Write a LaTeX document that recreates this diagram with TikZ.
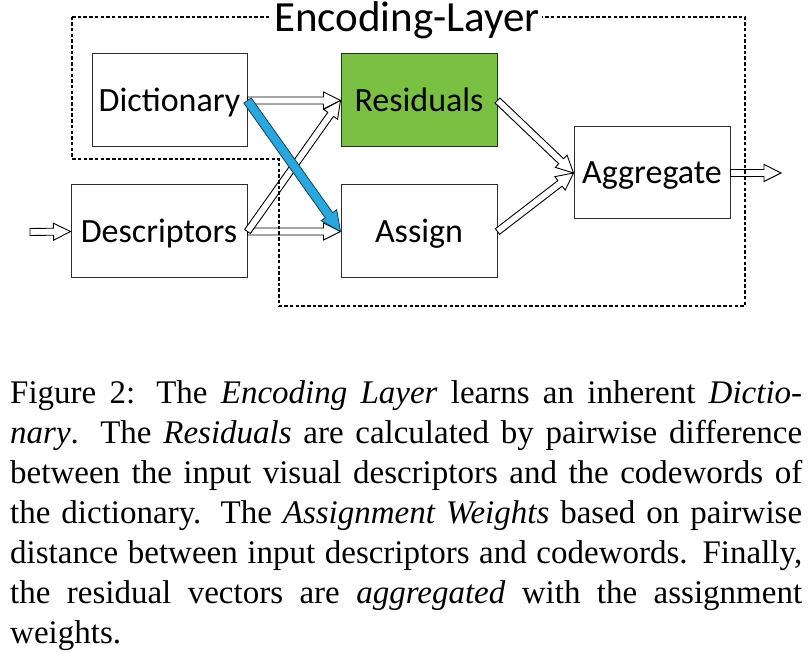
\documentclass[tikz,border=0pt]{standalone}
\usepackage{fontspec}
\setmainfont{Liberation Serif}
\newfontfamily\boxfont{Carlito}
\usetikzlibrary{calc}
\definecolor{resgreen}{RGB}{122,192,67}
\definecolor{arrowblue}{RGB}{41,168,224}
\definecolor{boxline}{RGB}{45,45,45}
% style, from, to, shaft half width, head half width, head length
\newcommand\flowarrow[6]{%
  \draw[#1] let \p1=(#2), \p2=(#3),
    \n1={atan2(\y2-\y1,\x2-\x1)}, \n2={veclen(\x2-\x1,\y2-\y1)} in
    [shift={(\p1)}, rotate=\n1]
    (0pt,-#4) -- ({\n2*1pt-#6},-#4) -- ({\n2*1pt-#6},-#5) -- ({\n2*1pt},0pt)
    -- ({\n2*1pt-#6},#5) -- ({\n2*1pt-#6},#4) -- (0pt,#4) -- cycle;}
\begin{document}
\begin{tikzpicture}[x=1pt,y=-1pt,
  blockbox/.style={draw=boxline, line width=1pt, minimum width=156pt,
    minimum height=93pt, inner sep=0pt,
    font=\boxfont\fontsize{34}{40}\selectfont, text height=22pt, text depth=0pt},
  harrow/.style={draw=black, line width=0.9pt, fill=white, line join=miter},
  barrow/.style={draw=black!60!arrowblue, line width=0.8pt, fill=arrowblue, line join=miter},
  frame/.style={line width=2pt, dash pattern=on 3.5pt off 2.2pt},
  titlestyle/.style={fill=white, inner sep=2pt, font=\boxfont\fontsize{43}{50}\selectfont}]
\useasboundingbox (0,0) rectangle (812,652);
% blocks
\node[blockbox, minimum width=155pt] (dict) at (169.5,100.5) {Dictionary};
\node[blockbox, fill=resgreen] (res) at (419,100.5) {Residuals};
\node[blockbox, minimum width=176pt] (desc) at (159,231.5) {Descriptors};
\node[blockbox] (assign) at (419,231.5) {Assign};
\node[blockbox, minimum height=92pt] (agg) at (652,173) {Aggregate};
\coordinate (in) at (30,232);
\coordinate (out) at (781,173);
% hollow arrows
\flowarrow{harrow}{in}{desc.west}{3.5pt}{8.5pt}{17pt}
\flowarrow{harrow}{dict.east}{res.west}{3.5pt}{8.5pt}{17pt}
\flowarrow{harrow}{desc.east}{assign.west}{3.5pt}{8.5pt}{17pt}
\flowarrow{harrow}{desc.east}{res.west}{3.5pt}{8.5pt}{17pt}
\flowarrow{harrow}{res.east}{agg.west}{3.5pt}{8.5pt}{17pt}
\flowarrow{harrow}{assign.east}{agg.west}{3.5pt}{8.5pt}{17pt}
\flowarrow{harrow}{agg.east}{out}{3.5pt}{8.5pt}{17pt}
% blue arrow
\flowarrow{barrow}{dict.east}{assign.west}{4.5pt}{9.5pt}{20pt}
% dashed frame
\draw[frame] (72,17) -- (745,17) -- (745,306) -- (279,306) -- (279,159) -- (72,159) -- cycle;
\node[titlestyle, anchor=base] (title) at (407,32) {Encoding-Layer};
% caption
\node[anchor=north west, inner sep=0pt, text width=792pt, align=justify,
  font=\fontsize{33}{40}\selectfont] (cap) at (10,380) {%
Figure 2: The \emph{Encoding Layer} learns an inherent \emph{Dictio-}\linebreak
\emph{nary}. The \emph{Residuals} are calculated by pairwise difference\linebreak
between the input visual descriptors and the codewords of\linebreak
the dictionary. The \emph{Assignment Weights} based on pairwise\linebreak
distance between input descriptors and codewords. Finally,\linebreak
the residual vectors are \emph{aggregated} with the assignment\linebreak
weights.};
\end{tikzpicture}
\end{document}
